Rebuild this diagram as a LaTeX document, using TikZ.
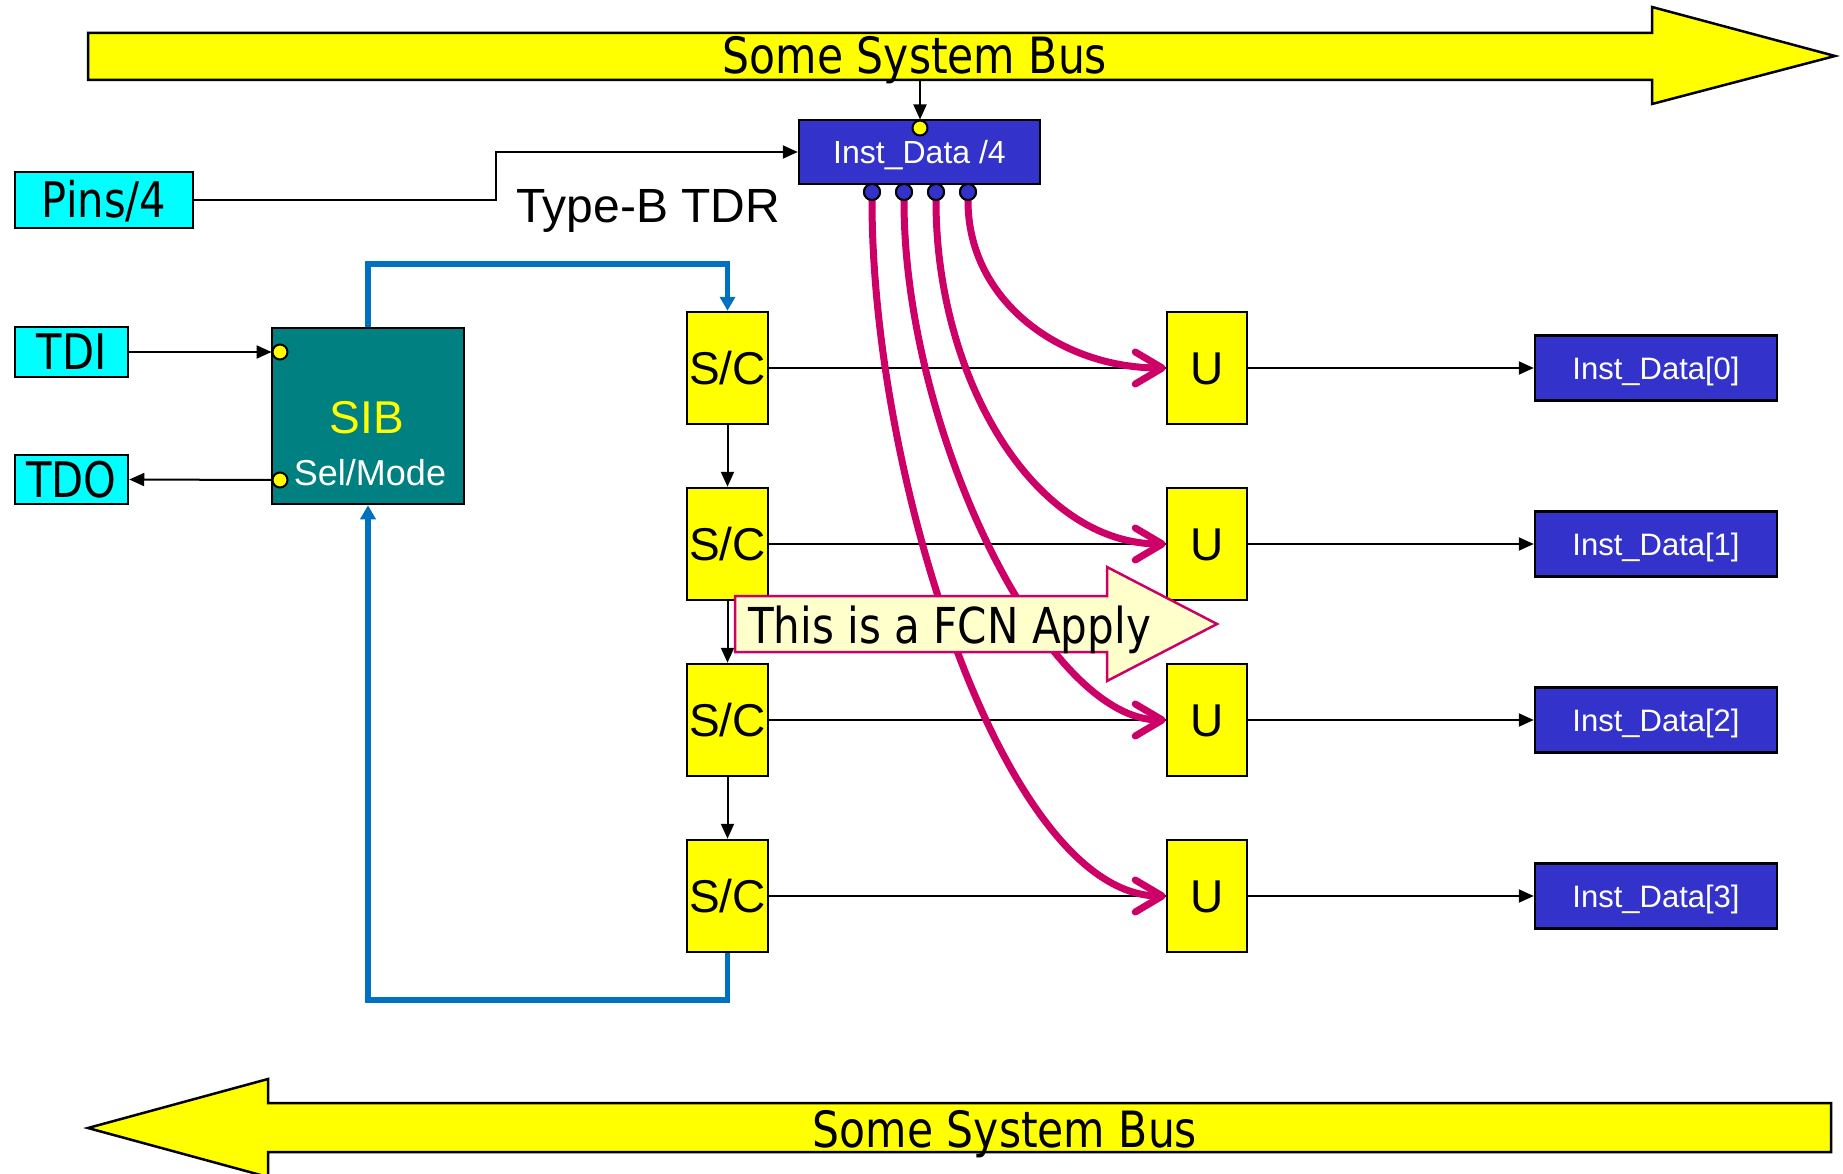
\documentclass[tikz,border=0pt]{standalone}
\usepackage{fontspec}
\setmainfont{Liberation Sans}
\newfontfamily\tahoma{DejaVu Sans}[FakeStretch=0.85]
\usetikzlibrary{arrows.meta}

\definecolor{busyellow}{HTML}{FFFF00}
\definecolor{pincyan}{HTML}{00FFFF}
\definecolor{sibteal}{HTML}{008080}
\definecolor{regblue}{HTML}{3333CC}
\definecolor{scanblue}{HTML}{0070C0}
\definecolor{fcnmag}{HTML}{CC0066}
\definecolor{notefill}{HTML}{FFFFCC}

% text height = cap height of the font in use, so labels sit on the box middle
\tikzset{
  box/.style={draw=black, line width=2.5pt, inner sep=0pt, anchor=center, text depth=0pt},
  pinbox/.style={box, fill=pincyan, font=\tahoma\fontsize{49}{49}\selectfont, text height=35.5pt},
  scbox/.style={box, fill=busyellow, minimum width=81pt, minimum height=112pt,
                font=\fontsize{46}{46}\selectfont, text height=33pt},
  ubox/.style={box, fill=busyellow, minimum width=80pt, minimum height=112pt,
               font=\fontsize{46}{46}\selectfont, text height=33pt},
  regbox/.style={box, fill=regblue, text=white, minimum height=65pt},
  sig/.style={draw=black, line width=2pt},
  sigarrow/.style={sig, -{Triangle[length=15pt,width=13pt]}},
  scanpath/.style={draw=scanblue, line width=5.5pt, -{Triangle[length=14pt,width=15pt]}},
  fcn/.style={draw=fcnmag, line width=7pt, line cap=round,
              -{Straight Barb[length=27pt,width=32pt,round]}},
  ydot/.style={circle, draw=black, line width=2pt, fill=busyellow, minimum size=15pt, inner sep=0pt},
  bdot/.style={circle, draw=black, line width=2pt, fill=regblue, minimum size=16pt, inner sep=0pt},
  busarrow/.style={draw=black, line width=2.5pt, fill=busyellow, line join=miter},
  bustext/.style={font=\tahoma\fontsize{50}{50}\selectfont, anchor=base, inner sep=0pt},
}

\begin{document}
\begin{tikzpicture}[x=1pt, y=-1pt]
\useasboundingbox (0,0) rectangle (1843,1174);

% system buses
\draw[busarrow] (88,33) -- (1652,33) -- (1652,7) -- (1835,56) -- (1652,104)
  -- (1652,80) -- (88,80) -- cycle;
\node[bustext] (bustop) at (915,74) {Some System Bus};
\draw[busarrow] (1831,1103) -- (268,1103) -- (268,1079) -- (88,1128) -- (268,1177)
  -- (268,1152) -- (1831,1152) -- cycle;
\node[bustext] (busbot) at (1005,1147) {Some System Bus};
\coordinate (busdrop) at (920,80);

% pins and the type-B TDR register
\node[pinbox, minimum width=178pt, minimum height=56pt] (pins) at (104,200) {Pins/4};
\node[regbox, minimum width=241pt, minimum height=64pt, font=\fontsize{32}{32}\selectfont,
  text height=23pt] (inst) at (919.5,152) {Inst\_Data /4};
\node[anchor=base west, inner sep=0pt, font=\fontsize{48}{48}\selectfont]
  (tdrlabel) at (516,223) {Type-B TDR};
\draw[sigarrow] (pins.east) -- ++(302,0) |- (inst.west);
\node[ydot] (instin) at (920,128) {};
\draw[sigarrow] (busdrop) -- (instin.north);

% TDI / TDO and the SIB
\node[pinbox, minimum width=113pt, minimum height=50pt] (tdi) at (71.5,352) {TDI};
\node[pinbox, minimum width=113pt, minimum height=49pt] (tdo) at (71.5,479.5) {TDO};
\node[box, fill=sibteal, minimum width=192pt, minimum height=176pt] (sib) at (368,416) {};
\node[anchor=base, inner sep=0pt, text=busyellow, font=\fontsize{46}{46}\selectfont]
  (sibname) at (367,433) {SIB};
\node[anchor=base, inner sep=0pt, text=white, font=\fontsize{36}{36}\selectfont]
  (sibmode) at (370,485) {Sel/Mode};
\node[ydot] (sibin) at (280,352) {};
\node[ydot] (sibout) at (280,480) {};
\draw[sigarrow] (tdi.east) -- (sibin.west);
\draw[sigarrow] (sibout.west) -- (tdo.east);

% scan cells, update stages and instrument data registers
\foreach \i/\y in {0/368, 1/544, 2/720, 3/896} {
  \node[scbox] (sc\i) at (727.5,\y) {S/C};
  \node[ubox] (u\i) at (1207,\y) {U};
  \node[regbox, minimum width=242pt, font=\fontsize{31}{31}\selectfont, text height=22pt]
    (data\i) at (1656,\y) {Inst\_Data[\i]};
  \draw[sig] (sc\i.east) -- (u\i.west);
  \draw[sigarrow] (u\i.east) -- (data\i.west);
}
\foreach \a/\b in {0/1, 1/2, 2/3} {
  \draw[sigarrow] (sc\a.south) -- (sc\b.north);
}

% scan path through the SIB
\draw[scanpath] (sib.north) -- (368,264) -| (sc0.north);
\draw[scanpath] (sc3.south) -- (727.5,1000) -| (sib.south);

% function outputs of the register
\node[bdot] (d1) at (872,192) {};
\node[bdot] (d2) at (904,192) {};
\node[bdot] (d3) at (936,192) {};
\node[bdot] (d4) at (968,192) {};
\draw[fcn] (d1.south) .. controls +(0,280) and +(-160,0) .. (u3.west);
\draw[fcn] (d2.south) .. controls +(0,230) and +(-120,0) .. (u2.west);
\draw[fcn] (d3.south) .. controls +(0,180) and +(-130,0) .. (u1.west);
\draw[fcn] (d4.south) .. controls +(0,100) and +(-105,0) .. (u0.west);
\foreach \d in {d1,d2,d3,d4} {
  \node[bdot] at (\d) {};
}

% callout
\draw[draw=fcnmag, line width=2.5pt, fill=notefill, line join=miter]
  (735,596) -- (1107,596) -- (1107,567) -- (1217,624) -- (1107,681)
  -- (1107,652) -- (735,652) -- cycle;
\node[anchor=base west, inner sep=0pt, font=\tahoma\fontsize{49.5}{49.5}\selectfont]
  (note) at (748,643) {This is a FCN Apply};
\end{tikzpicture}
\end{document}
